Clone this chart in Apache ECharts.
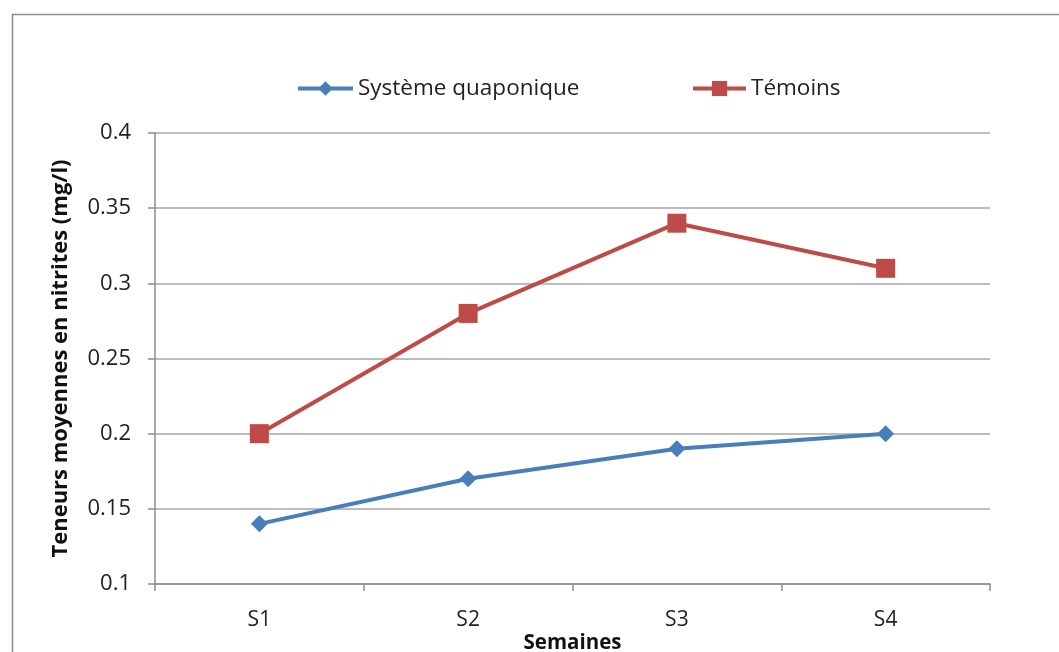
<!DOCTYPE html>
<html>
<head>
<meta charset="utf-8">
<script src="https://cdn.jsdelivr.net/npm/echarts@6/dist/echarts.min.js"></script>
<style>
  html, body { margin: 0; padding: 0; background: #fff; overflow: hidden; }
  #chart { width: 1059px; height: 652px; }
</style>
</head>
<body>
<div id="chart"></div>
<script>
// Semaines de suivi
const categories = ['S1', 'S2', 'S3', 'S4'];
// Teneurs moyennes en nitrites (mg/l)
const aquaponique = [0.14, 0.17, 0.19, 0.20];
const temoins = [0.20, 0.28, 0.34, 0.31];
const yTicks = { min: 0.1, max: 0.4, interval: 0.05 };

const font = '"Open Sans", "Noto Sans", sans-serif';
const chart = echarts.init(document.getElementById('chart'), null, { renderer: 'canvas' });

chart.setOption({
  animation: false,
  backgroundColor: '#ffffff',
  graphic: [{
    type: 'rect',
    shape: { x: 12.5, y: 14.5, width: 1070, height: 660 },
    style: { fill: 'none', stroke: '#8c8c8c', lineWidth: 1.5 },
    silent: true
  }],
  grid: { left: 155, right: 69, top: 133, bottom: 68, containLabel: false, outerBoundsMode: 'none' },
  legend: [{
    data: ['Système quaponique'],
    left: 291, top: 72,
    itemWidth: 55, itemHeight: 18, itemGap: 3,
    lineStyle: { width: 4 },
    textStyle: { fontFamily: font, fontSize: 22.5, color: '#222' }
  }, {
    data: ['Témoins'],
    left: 686, top: 72,
    itemWidth: 53, itemHeight: 19, itemGap: 3,
    lineStyle: { width: 4 },
    textStyle: { fontFamily: font, fontSize: 22.5, color: '#222' }
  }],
  xAxis: {
    type: 'category',
    data: categories,
    boundaryGap: true,
    name: 'Semaines',
    nameLocation: 'middle',
    nameGap: 49,
    nameMoveOverlap: false,
    nameTextStyle: { fontFamily: font, fontSize: 20.5, fontWeight: 'bold', color: '#111' },
    axisLine: { lineStyle: { color: '#8c8c8c', width: 1.5 } },
    axisTick: { show: true, length: 7, alignWithLabel: false, lineStyle: { color: '#8c8c8c', width: 1.5 } },
    axisLabel: { fontFamily: font, fontSize: 21, color: '#222', margin: 26 }
  },
  yAxis: {
    type: 'value',
    min: yTicks.min, max: yTicks.max, interval: yTicks.interval,
    name: 'Teneurs moyennes en nitrites (mg/l)',
    nameLocation: 'middle',
    nameGap: 83,
    nameMoveOverlap: false,
    nameTextStyle: { fontFamily: font, fontSize: 22, fontWeight: 'bold', color: '#111' },
    axisLine: { show: true, lineStyle: { color: '#8c8c8c', width: 1.5 } },
    axisTick: { show: true, inside: false, length: 7, lineStyle: { color: '#8c8c8c', width: 1.5 } },
    axisLabel: {
      fontFamily: font, fontSize: 22, color: '#222', margin: 24,
      formatter: v => String(parseFloat(v.toFixed(2)))
    },
    splitLine: { lineStyle: { color: '#a6a6a6', width: 1.5 } }
  },
  series: [{
    name: 'Système quaponique',
    type: 'line',
    data: aquaponique,
    symbol: 'diamond',
    symbolSize: 17,
    color: '#4a7ebb',
    lineStyle: { width: 4, color: '#4a7ebb' },
    itemStyle: { color: '#4a7ebb' }
  }, {
    name: 'Témoins',
    type: 'line',
    data: temoins,
    symbol: 'rect',
    symbolSize: 19,
    color: '#be4b48',
    lineStyle: { width: 4, color: '#be4b48' },
    itemStyle: { color: '#be4b48' }
  }]
});
</script>
</body>
</html>
